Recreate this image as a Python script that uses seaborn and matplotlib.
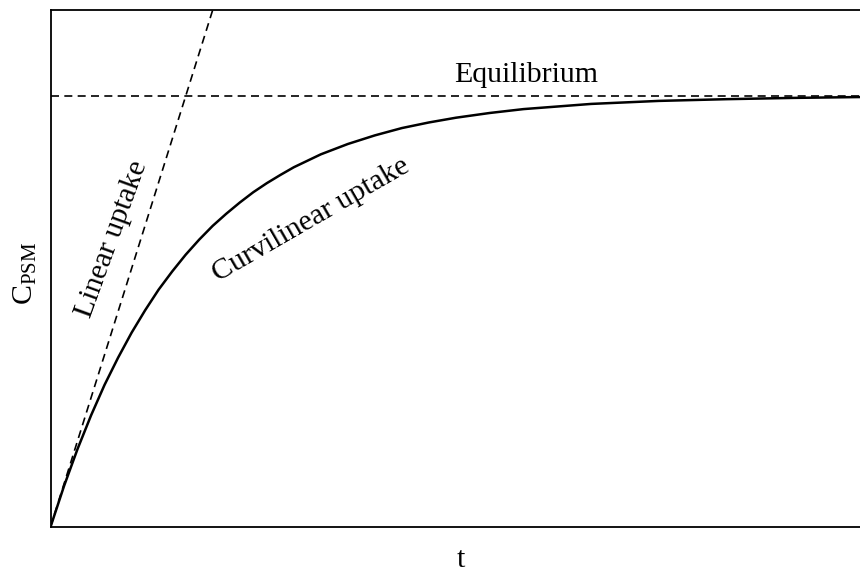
import matplotlib
matplotlib.use("Agg")
import matplotlib.pyplot as plt
import seaborn as sns
import pandas as pd

# Values (arbitrary units)
t_curve = [0.0, 0.1, 0.2, 0.3, 0.4, 0.5, 0.6, 0.7, 0.8, 0.9, 1.0, 1.1, 1.2, 1.3,
           1.4, 1.5, 1.6, 1.7, 1.8, 1.9, 2.0, 2.2, 2.4, 2.6, 2.8, 3.0, 3.25,
           3.5, 3.75, 4.0, 4.5, 5.0, 5.5, 6.0]
c_curve = [0.0, 0.095, 0.181, 0.259, 0.330, 0.393, 0.451, 0.503, 0.551, 0.593,
           0.632, 0.667, 0.699, 0.727, 0.753, 0.777, 0.798, 0.817, 0.835, 0.850,
           0.865, 0.889, 0.909, 0.926, 0.939, 0.950, 0.961, 0.970, 0.976, 0.982,
           0.989, 0.993, 0.996, 0.998]
t_linear = [0.0, 1.25]
c_linear = [0.0, 1.25]
equilibrium = 1.0
x_range = [0.0, 6.0]
y_range = [0.0, 1.2]

sns.set_theme(style="white")
plt.rcParams["font.family"] = ["Liberation Serif", "DejaVu Serif"]
plt.rcParams["mathtext.fontset"] = "custom"
plt.rcParams["mathtext.rm"] = "Liberation Serif"
plt.rcParams["mathtext.default"] = "regular"
plt.rcParams["text.color"] = "black"

fig = plt.figure(figsize=(8.6, 5.72), dpi=100)
ax = fig.add_axes([50.5 / 860, 45 / 572, 811 / 860, 517 / 572])

df_curve = pd.DataFrame({"t": t_curve, "C": c_curve})
df_lin = pd.DataFrame({"t": t_linear, "C": c_linear})

sns.lineplot(data=df_curve, x="t", y="C", ax=ax, color="black", linewidth=1.8,
             estimator=None, sort=False)
sns.lineplot(data=df_lin, x="t", y="C", ax=ax, color="black", linewidth=1.2,
             estimator=None, sort=False)
ax.lines[-1].set_dashes((4.8, 3.2))
ax.axhline(equilibrium, color="black", linewidth=1.2, dashes=(4.8, 3.2))

ax.set_xlim(x_range)
ax.set_ylim(y_range)
ax.set_xticks([])
ax.set_yticks([])
ax.set_xlabel("")
ax.set_ylabel("")
for s in ax.spines.values():
    s.set_color("black")
    s.set_linewidth(1.3)

fs = 21.5
ax.text(3.52, 1.032, "Equilibrium", ha="center", va="baseline", fontsize=fs,
        color="black")
ax.text(0.456, 0.668, "Linear uptake", ha="center", va="center", rotation=70,
        fontsize=fs, color="black")
ax.text(1.93, 0.712, "Curvilinear uptake", ha="center", va="center", rotation=30,
        fontsize=fs, color="black")
ax.text(-0.031, 0.491, r"$C_{PSM}$", transform=ax.transAxes, ha="center",
        va="center", rotation=90, fontsize=fs, color="black")
ax.text(0.506, -0.064, "t", transform=ax.transAxes, ha="center", va="center",
        fontsize=fs, color="black")

fig.savefig("out.png", dpi=100)
